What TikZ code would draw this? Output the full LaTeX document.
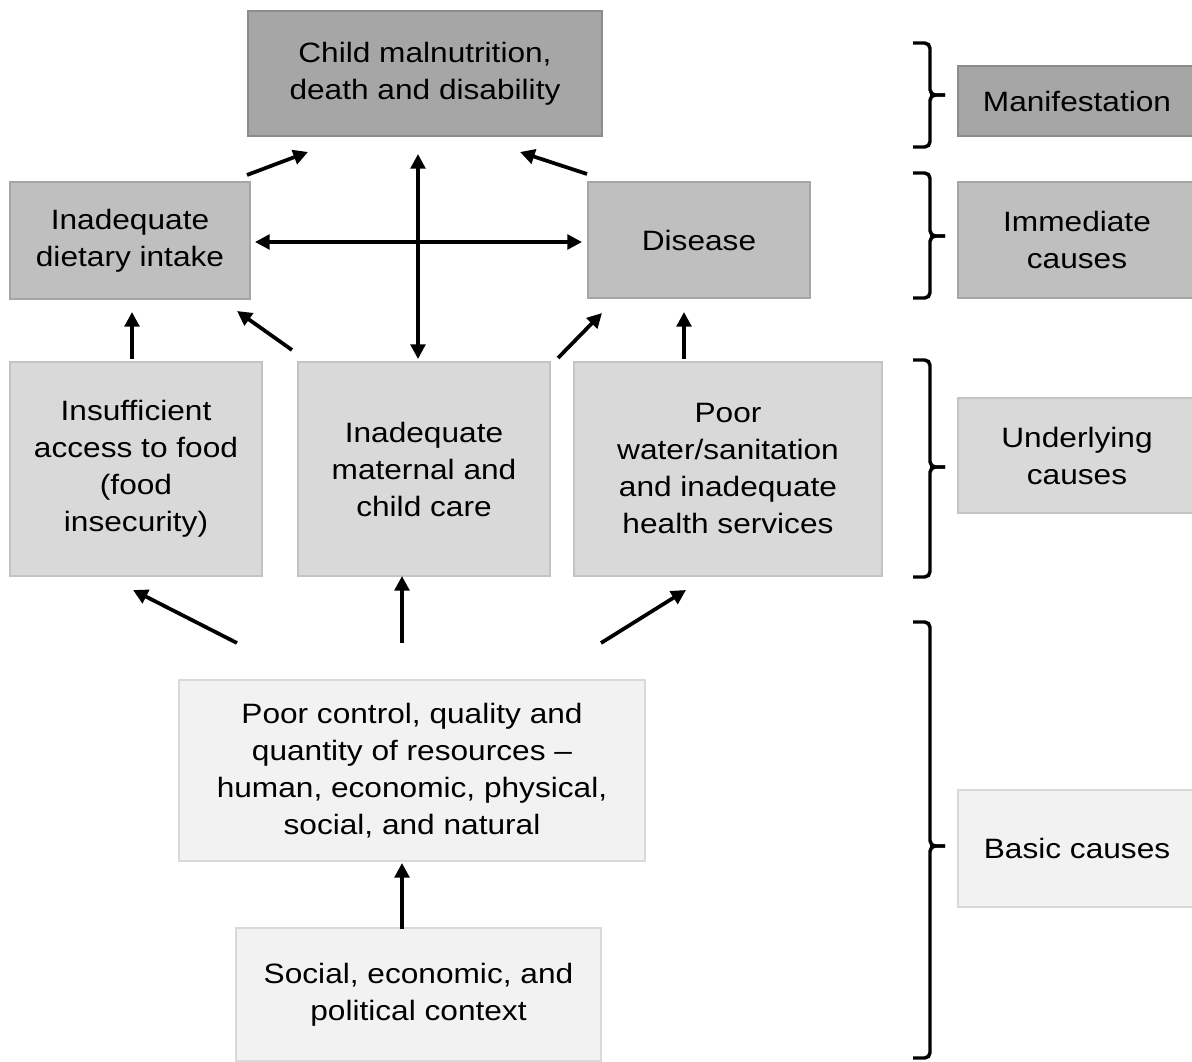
\documentclass[tikz,border=0pt]{standalone}
\usepackage{fontspec}
\setmainfont[FakeStretch=1.13]{Liberation Sans}
\usetikzlibrary{arrows.meta,positioning}

\definecolor{fillA}{HTML}{A6A6A6}
\definecolor{lineA}{HTML}{8C8C8C}
\definecolor{fillB}{HTML}{BFBFBF}
\definecolor{lineB}{HTML}{A6A6A6}
\definecolor{fillC}{HTML}{D9D9D9}
\definecolor{lineC}{HTML}{C4C4C4}
\definecolor{fillD}{HTML}{F2F2F2}
\definecolor{lineD}{HTML}{D9D9D9}

\tikzset{
  box/.style={draw, line width=2.2pt, align=center, inner sep=0pt,
    font=\fontsize{21}{27.75}\selectfont},
  manif/.style={box, fill=fillA, draw=lineA},
  immed/.style={box, fill=fillB, draw=lineB},
  under/.style={box, fill=fillC, draw=lineC},
  basic/.style={box, fill=fillD, draw=lineD},
  arr/.style={-{Triangle[length=11pt,width=11pt]}, line width=2.8pt},
  biarr/.style={{Triangle[length=11pt,width=11pt]}-{Triangle[length=11pt,width=11pt]}, line width=2.6pt},
  brc/.style={line width=2.6pt, rounded corners=4pt}
}

\begin{document}
\begin{tikzpicture}[x=0.75pt,y=-0.75pt]
  \clip (0,0) rectangle (1192,1062);

  % causal chain
  \node [manif, minimum width=265.5pt, minimum height=93.75pt] (malnut) at (425,73.5)
    {Child malnutrition,\\death and disability};
  \node [immed, minimum width=180pt, minimum height=87.75pt] (diet) at (130,240.5)
    {Inadequate\\dietary intake};
  \node [immed, minimum width=166.5pt, minimum height=87pt] (disease) at (699,240)
    {Disease};
  \node [under, minimum width=189pt, minimum height=160.5pt] (food) at (136,469)
    {Insufficient\\access to food\\(food\\insecurity)};
  \node [under, minimum width=189pt, minimum height=160.5pt] (care) at (424,469)
    {Inadequate\\maternal and\\child care};
  \node [under, minimum width=231pt, minimum height=160.5pt] (water) at (728,469)
    {Poor\\water/sanitation\\and inadequate\\health services};
  \node [basic, minimum width=349.5pt, minimum height=135.75pt] (resources) at (412,770.5)
    {Poor control, quality and\\quantity of resources --\\human, economic, physical,\\social, and natural};
  \node [basic, minimum width=273.75pt, minimum height=99.75pt] (context) at (418.5,994.5)
    {Social, economic, and\\political context};

  % levels
  \node [manif, minimum width=178.5pt, minimum height=52.5pt] (lvlmanif) at (1077,101)
    {Manifestation};
  \node [immed, minimum width=178.5pt, minimum height=87pt] (lvlimmed) at (1077,240)
    {Immediate\\causes};
  \node [under, minimum width=178.5pt, minimum height=86.25pt] (lvlunder) at (1077,455.5)
    {Underlying\\causes};
  \node [basic, minimum width=178.5pt, minimum height=87.75pt] (lvlbasic) at (1077,848.5)
    {Basic causes};

  \foreach \t/\m/\b in {43/95/147, 173/236/298, 360/467/577, 622/846/1058} {
    \draw [brc] (913,\t) -- (930,\t) -- (930,\m) -- (945,\m);
    \draw [brc] (913,\b) -- (930,\b) -- (930,\m) -- (945,\m);
  }

  % arrow ends
  \coordinate (dietout) at (247,175);   \coordinate (malnutL) at (308,152);
  \coordinate (diseaseout) at (587,174); \coordinate (malnutR) at (520,152);
  \coordinate (malnutM) at (418,154);   \coordinate (careM) at (418,359);
  \coordinate (dietE) at (255,242);     \coordinate (diseaseW) at (582,242);
  \coordinate (foodout) at (132,359);   \coordinate (dietS) at (132,312);
  \coordinate (careL) at (292,350);     \coordinate (dietSE) at (237,311);
  \coordinate (careR) at (558,358);     \coordinate (diseaseSW) at (602,313);
  \coordinate (waterout) at (684,359);  \coordinate (diseaseS) at (684,312);
  \coordinate (resL) at (237,643);      \coordinate (foodS) at (133,590);
  \coordinate (resM) at (402,643);      \coordinate (careS) at (402,576);
  \coordinate (resR) at (601,643);      \coordinate (waterS) at (686,590);
  \coordinate (contextN) at (402,929);  \coordinate (resS) at (402,863);

  \draw [arr] (dietout) -- (malnutL);
  \draw [arr] (diseaseout) -- (malnutR);
  \draw [biarr] (malnutM) -- (careM);
  \draw [biarr] (dietE) -- (diseaseW);
  \draw [arr] (foodout) -- (dietS);
  \draw [arr] (careL) -- (dietSE);
  \draw [arr] (careR) -- (diseaseSW);
  \draw [arr] (waterout) -- (diseaseS);
  \draw [arr] (resL) -- (foodS);
  \draw [arr] (resM) -- (careS);
  \draw [arr] (resR) -- (waterS);
  \draw [arr] (contextN) -- (resS);
\end{tikzpicture}
\end{document}
